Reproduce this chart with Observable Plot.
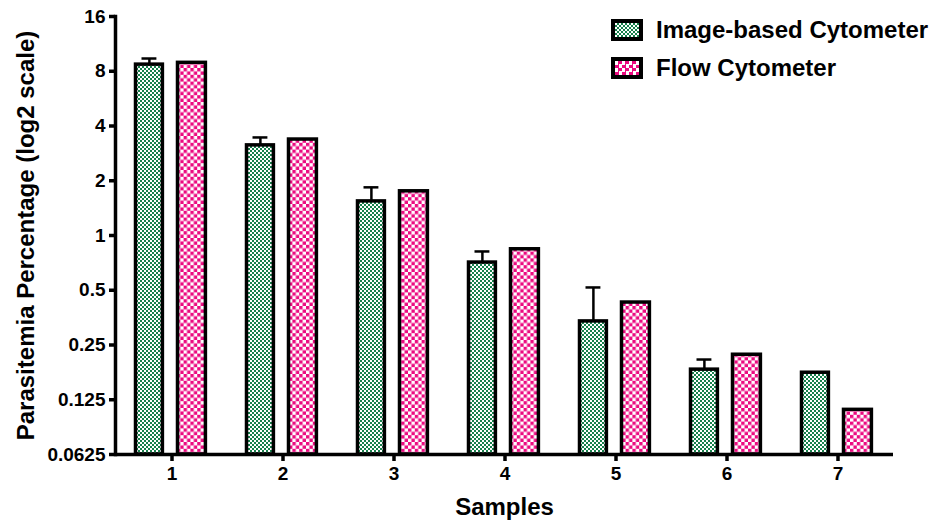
<!DOCTYPE html>
<html>
<head>
<meta charset="utf-8">
<script src="https://cdn.jsdelivr.net/npm/d3@7"></script>
<script src="https://cdn.jsdelivr.net/npm/@observablehq/plot@0.6"></script>
<style>
  html, body { margin: 0; padding: 0; background: white; }
  #wrap { position: relative; width: 945px; height: 523px; font-family: "Liberation Sans", Arial, sans-serif; font-weight: bold; }
  .leg { position: absolute; left: 611px; display: flex; align-items: center; font-size: 24px; color: #000; white-space: nowrap; }
  .sw { width: 24px; height: 14px; border: 4px solid #000; margin-right: 13px; }
  .sw.g { background: repeating-conic-gradient(#17804c 0 25%, #ffffff 0 50%) 0 0 / 4px 4px; }
  .sw.p { background: repeating-conic-gradient(#eb0a80 0 25%, #ffffff 0 50%) 0 0 / 7px 7px; }
</style>
</head>
<body>
<div id="wrap"></div>
<script>
const samples = ["1", "2", "3", "4", "5", "6", "7"];
const imageBased = [8.7, 3.13, 1.54, 0.71, 0.337, 0.183, 0.176];
const imageBasedErrTop = [9.4, 3.46, 1.84, 0.817, 0.518, 0.208, null];
const flow = [8.9, 3.37, 1.75, 0.84, 0.428, 0.221, 0.110];
const yTicks = [0.0625, 0.125, 0.25, 0.5, 1, 2, 4, 8, 16];
const seriesNames = ["Image-based Cytometer", "Flow Cytometer"];

const imgData = samples.map((s, i) => ({s, v: imageBased[i], e: imageBasedErrTop[i]}));
const flowData = samples.map((s, i) => ({s, v: flow[i]}));
const errData = imgData.filter(d => d.e != null);

const defs = () => {
  const g = d3.create("svg:defs");
  const pg = g.append("pattern").attr("id", "gchk").attr("patternUnits", "userSpaceOnUse")
    .attr("width", 4).attr("height", 4);
  pg.append("rect").attr("width", 4).attr("height", 4).attr("fill", "#ffffff");
  pg.append("rect").attr("width", 2).attr("height", 2).attr("fill", "#17804c");
  pg.append("rect").attr("x", 2).attr("y", 2).attr("width", 2).attr("height", 2).attr("fill", "#17804c");
  const pp = g.append("pattern").attr("id", "pchk").attr("patternUnits", "userSpaceOnUse")
    .attr("width", 6.8).attr("height", 6.8);
  pp.append("rect").attr("width", 6.8).attr("height", 6.8).attr("fill", "#ffffff");
  pp.append("rect").attr("width", 3.4).attr("height", 3.4).attr("fill", "#eb0a80");
  pp.append("rect").attr("x", 3.4).attr("y", 3.4).attr("width", 3.4).attr("height", 3.4).attr("fill", "#eb0a80");
  return g.node();
};

const chart = Plot.plot({
  width: 945,
  height: 523,
  marginLeft: 115,
  marginRight: 52,
  marginTop: 16,
  marginBottom: 69,
  style: {fontFamily: '"Liberation Sans", Arial, sans-serif', fontWeight: "bold", color: "#000", background: "white", overflow: "visible"},
  x: {type: "band", domain: samples, padding: 0, axis: null},
  y: {type: "log", base: 2, domain: [0.0625, 16], axis: null},
  marks: [
    defs,
    Plot.tickY(yTicks, {y: d => d, stroke: "#000", strokeWidth: 3.5, insetLeft: -6, insetRight: 778}),
    Plot.text(yTicks, {y: d => d, text: d => String(d), frameAnchor: "left", dx: -10, textAnchor: "end", lineAnchor: "middle", fontSize: 19, fontWeight: "bold", fill: "#000"}),
    Plot.ruleX(samples, {x: d => d, y1: 0.0625, y2: 0.0625, stroke: "#000", strokeWidth: 3.5, insetBottom: -7}),
    Plot.text(samples, {x: d => d, text: d => d, frameAnchor: "bottom", dy: 19, lineAnchor: "middle", fontSize: 19, fontWeight: "bold", fill: "#000"}),
    Plot.barY(imgData, {x: "s", y1: 0.0625, y2: "v", fill: "url(#gchk)", stroke: "#000", strokeWidth: 3.5, insetLeft: 19.5, insetRight: 64.6}),
    Plot.barY(flowData, {x: "s", y1: 0.0625, y2: "v", fill: "url(#pchk)", stroke: "#000", strokeWidth: 3.5, insetLeft: 61.5, insetRight: 21.6}),
    Plot.ruleX(errData, {x: "s", y1: "v", y2: "e", dx: -22.6, stroke: "#000", strokeWidth: 2.5}),
    Plot.tickY(errData, {x: "s", y: "e", insetLeft: 25.5, insetRight: 70.6, stroke: "#000", strokeWidth: 2.5}),
    Plot.ruleY([0.0625], {stroke: "#000", strokeWidth: 3.5}),
    Plot.frame({anchor: "left", stroke: "#000", strokeWidth: 3.5}),
    Plot.text(["Parasitemia Percentage (log2 scale)"], {frameAnchor: "left", rotate: -90, dx: -89, fontSize: 24, fontWeight: "bold", textAnchor: "middle", lineAnchor: "middle", fill: "#000"}),
    Plot.text(["Samples"], {frameAnchor: "bottom", dy: 53, fontSize: 24, fontWeight: "bold", lineAnchor: "middle", fill: "#000"})
  ]
});

const wrap = document.getElementById("wrap");
wrap.appendChild(chart);

const legTops = [16, 54];
const legCls = ["g", "p"];
seriesNames.forEach((name, i) => {
  const d = document.createElement("div");
  d.className = "leg";
  d.style.top = legTops[i] + "px";
  d.innerHTML = `<span class="sw ${legCls[i]}"></span><span>${name}</span>`;
  wrap.appendChild(d);
});
</script>
</body>
</html>
